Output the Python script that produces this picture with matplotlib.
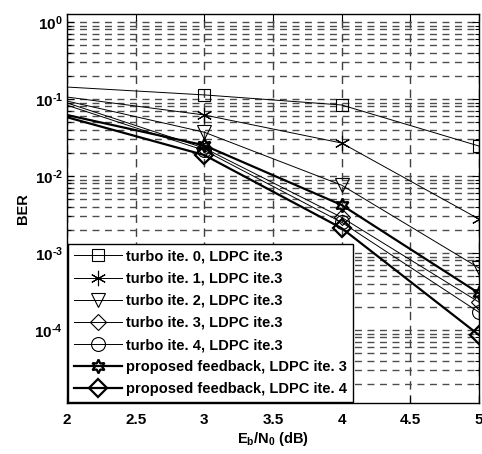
import numpy as np
import matplotlib
matplotlib.use("Agg")
import matplotlib.pyplot as plt
from matplotlib.ticker import FixedLocator, FixedFormatter, LogLocator, NullFormatter

plt.rcParams['font.family'] = ['Liberation Sans', 'DejaVu Sans']
plt.rcParams['font.weight'] = 'bold'
plt.rcParams['mathtext.fontset'] = 'custom'
plt.rcParams['mathtext.rm'] = 'Liberation Sans:bold'
plt.rcParams['mathtext.bf'] = 'Liberation Sans:bold'
plt.rcParams['mathtext.it'] = 'Liberation Sans:bold'

ebn0 = [2, 3, 4, 5]
ber_t0 = [0.143, 0.113, 0.0836, 0.0245]
ber_t1 = [0.106, 0.062, 0.0268, 0.00276]
ber_t2 = [0.094, 0.037, 0.0076, 0.00064]
ber_t3 = [0.089, 0.023, 0.0029, 0.00023]
ber_t4 = [0.083, 0.0215, 0.0025, 0.00017]
ber_p3 = [0.062, 0.025, 0.0042, 0.00030]
ber_p4 = [0.058, 0.0187, 0.0021, 0.000086]

labels = ['turbo ite. 0, LDPC ite.3', 'turbo ite. 1, LDPC ite.3',
          'turbo ite. 2, LDPC ite.3', 'turbo ite. 3, LDPC ite.3',
          'turbo ite. 4, LDPC ite.3', 'proposed feedback, LDPC ite. 3',
          'proposed feedback, LDPC ite. 4']

xticks = [2, 2.5, 3, 3.5, 4, 4.5, 5]
xticklabels = ['2', '2.5', '3', '3.5', '4', '4.5', '5']
yticks = [1e-4, 1e-3, 1e-2, 1e-1, 1e0]
yticklabels = [r'$10^{\text{-4}}$', r'$10^{\text{-3}}$', r'$10^{\text{-2}}$',
               r'$10^{\text{-1}}$', r'$10^{0}$']

fig = plt.figure(figsize=(4.82, 4.54), dpi=100)
ax = fig.add_axes([67/482, 1-403/454, 412/482, 389/454])

series = [ber_t0, ber_t1, ber_t2, ber_t3, ber_t4, ber_p3, ber_p4]
markers = ['s', (6, 2, 0), 'v', 'D', 'o', (6, 1, 0), 'D']
msizes = [9, 11, 10, 8, 10, 10, 9]
lws = [0.7, 0.7, 0.7, 0.7, 0.7, 1.6, 1.6]
mews = [0.8, 0.8, 0.8, 0.8, 0.8, 1.6, 1.6]
for ys, mk, ms, lw, mew, lab in zip(series, markers, msizes, lws, mews, labels):
    ax.semilogy(ebn0, ys, color='black', lw=lw, marker=mk, ms=ms, mew=mew,
                mfc='none', mec='black', markevery=[1, 2, 3], label=lab,
                clip_on=True)

ax.set_xlim(2, 5)
ax.set_ylim(10**(-381/77), 10**(8/77))
ax.set_yscale('log')
ax.xaxis.set_major_locator(FixedLocator(xticks))
ax.xaxis.set_major_formatter(FixedFormatter(xticklabels))
ax.yaxis.set_major_locator(FixedLocator(yticks))
ax.yaxis.set_major_formatter(FixedFormatter(yticklabels))
ax.yaxis.set_minor_locator(LogLocator(base=10, subs=np.arange(2, 10)))
ax.yaxis.set_minor_formatter(NullFormatter())

ax.grid(True, which='major', axis='x', color='0.25', ls=(0, (6, 4)), lw=1.0)
ax.grid(True, which='both', axis='y', color='0.3', ls=(0, (5, 4)), lw=1.0)
ax.set_axisbelow(True)

ax.tick_params(axis='both', which='both', direction='in', top=True, right=True,
               labelsize=11, width=0.8)
ax.tick_params(axis='both', which='major', length=5)
ax.tick_params(axis='y', which='minor', length=3)
ax.tick_params(axis='x', pad=7)
ax.tick_params(axis='y', pad=3)
for s in ax.spines.values():
    s.set_linewidth(1.0)

ax.set_xlabel(r'E$_{\mathrm{b}}$/N$_{\mathrm{0}}$ (dB)', fontsize=10.5, fontweight='bold', labelpad=2)
ax.set_ylabel('BER', fontsize=10.5, fontweight='bold', labelpad=3)

leg = ax.legend(loc='lower left', borderaxespad=0.05, fontsize=10.5, fancybox=False,
                edgecolor='black', framealpha=1, handlelength=3.3, handletextpad=0.3,
                labelspacing=0.56, borderpad=0.4)
leg.get_frame().set_linewidth(1.0)

fig.savefig('out.png', dpi=100)
